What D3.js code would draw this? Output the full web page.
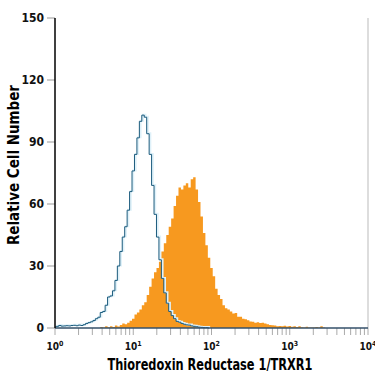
<!DOCTYPE html>
<html>
<head>
<meta charset="utf-8">
<script src="https://cdn.jsdelivr.net/npm/d3@7"></script>
<style>
  body { margin: 0; background: #fff; }
  text { font-family: "Liberation Sans Narrow", "DejaVu Sans Condensed", sans-serif; font-weight: bold; }
</style>
</head>
<body>
<div id="chart"></div>
<script>
// histogram channels: 128 log channels over 4 decades (10^0 .. 10^4)
var decades = 4;
var channelCount = 128;

// isotype control (outline)
var controlCounts = [
  0.5, 0.8, 1.2, 0.9, 1.0, 1.1, 1.0, 1.2, 1.3, 1.1,
  1.4, 1.2, 1.6, 2.2, 2.6, 3.0, 3.6, 4.5, 5.2, 7.5,
  8.0, 11, 15, 15.5, 18, 23, 30, 37, 44, 49,
  57, 66, 76, 84, 92, 100, 103, 102, 94, 84,
  69, 55, 44, 33, 24, 17, 12, 8, 6, 4.5,
  3.2, 2.8, 2.2, 1.8, 1.5, 1.4, 1.0, 0.8, 0.6, 0.4,
  0.3, 0.2, 0.2, 0
];

// TRXR1 stained (filled)
var stainedCounts = [
  0, 0, 0, 0, 0, 0, 0, 0, 0, 0,
  0, 0, 0, 0, 0, 0, 0, 0, 0, 0.5,
  0.3, 0.8, 0.4, 0.9, 0.5, 1.2, 0.7, 1.5, 2.2, 1.8,
  2.6, 3.5, 4.5, 6.5, 7.5, 9, 11, 12.5, 16, 20,
  24, 27, 29, 32, 37, 41, 45, 49, 53, 59,
  64, 68, 67, 69, 70, 68, 72, 73, 67, 61,
  54, 46, 40, 34, 29, 25, 19, 16, 14, 11,
  9.5, 9, 8, 7, 7.2, 5.5, 5.5, 4.5, 4.2, 3.8,
  3.2, 3.0, 2.6, 2.8, 2.4, 2.6, 2.2, 1.8, 1.5, 1.3,
  1.2, 0.8, 1.0, 0.9, 1.1, 0.7, 1.0, 0.6, 0.9, 0.5,
  0.8, 0.4, 0.3, 0.6, 0.2, 0.3, 0.2, 0.5, 0.3, 0.8,
  0.2, 0
];

var yTicks = [0, 30, 60, 90, 120, 150];
var xDecades = [0, 1, 2, 3, 4];
var xTitle = "Thioredoxin Reductase 1/TRXR1";
var yTitle = "Relative Cell Number";

var width = 375;
var height = 375;
var plotLeft = 55, plotRight = 368, plotTop = 18, plotBottom = 328;

var svg = d3.select("#chart").append("svg")
  .attr("width", width)
  .attr("height", height);

var x = d3.scaleLog().domain([1, 10000]).range([plotLeft, plotRight]);
var y = d3.scaleLinear().domain([0, 150]).range([plotBottom, plotTop]);

function toPoints(counts) {
  return counts.map(function(c, i) {
    return { v: Math.pow(10, i * decades / channelCount), c: c };
  });
}

var area = d3.area()
  .x(d => x(d.v))
  .y0(y(0))
  .y1(d => y(d.c))
  .curve(d3.curveStep);

var line = d3.line()
  .x(d => x(d.v))
  .y(d => y(d.c))
  .curve(d3.curveStep);

// right frame line
svg.append("line")
  .attr("x1", plotRight).attr("x2", plotRight)
  .attr("y1", plotTop).attr("y2", plotBottom)
  .attr("stroke", "#bbb")
  .attr("stroke-width", 1);

/* filled histogram */
svg.append("path")
  .datum(toPoints(stainedCounts))
  .attr("d", area)
  .attr("fill", "#f7991f");

/* outline histogram: light halo + dark line */
var ctrl = toPoints(controlCounts);
svg.append("path")
  .datum(ctrl)
  .attr("d", line)
  .attr("fill", "none")
  .attr("stroke", "#dff1f9")
  .attr("stroke-width", 2)
  .attr("transform", "translate(1.2,-0.5)");
svg.append("path")
  .datum(ctrl)
  .attr("d", line)
  .attr("fill", "none")
  .attr("stroke", "#1b5b7d")
  .attr("stroke-width", 1);

/* x axis */
var minor = [];
for (var d = 0; d < 4; d++) {
  for (var m = 2; m <= 9; m++) minor.push(m * Math.pow(10, d));
}
svg.append("g")
  .selectAll("line")
  .data(minor.concat(xDecades.map(d => Math.pow(10, d))))
  .enter().append("line")
  .attr("x1", d => x(d)).attr("x2", d => x(d))
  .attr("y1", plotBottom).attr("y2", plotBottom + 7)
  .attr("stroke", "#aaa")
  .attr("stroke-width", 1);

svg.append("line")
  .attr("x1", plotLeft).attr("x2", plotRight)
  .attr("y1", plotBottom).attr("y2", plotBottom)
  .attr("stroke", "#34506a")
  .attr("stroke-width", 1.5);

var xl = svg.append("g")
  .selectAll("text")
  .data(xDecades)
  .enter().append("text")
  .attr("x", d => x(Math.pow(10, d)))
  .attr("y", 350)
  .attr("text-anchor", "middle")
  .attr("font-size", 10)
  .attr("fill", "#111");
xl.append("tspan").text("10");
xl.append("tspan")
  .attr("dy", -4)
  .attr("font-size", 7)
  .text(d => d);

/* y axis */
svg.append("g")
  .selectAll("line")
  .data(yTicks)
  .enter().append("line")
  .attr("x1", plotLeft - 8).attr("x2", plotLeft)
  .attr("y1", d => y(d)).attr("y2", d => y(d))
  .attr("stroke", "#999")
  .attr("stroke-width", 1);

svg.append("line")
  .attr("x1", plotLeft).attr("x2", plotLeft)
  .attr("y1", plotTop).attr("y2", plotBottom)
  .attr("stroke", "#000")
  .attr("stroke-width", 1.5);

svg.append("g")
  .selectAll("text")
  .data(yTicks)
  .enter().append("text")
  .attr("x", plotLeft - 11)
  .attr("y", d => y(d) + 4)
  .attr("text-anchor", "end")
  .attr("font-size", 12)
  .attr("fill", "#111")
  .text(d => d);

/* titles */
svg.append("text")
  .attr("x", 210)
  .attr("y", 370)
  .attr("text-anchor", "middle")
  .attr("font-size", 15)
  .attr("textLength", 205)
  .attr("lengthAdjust", "spacingAndGlyphs")
  .attr("fill", "#000")
  .text(xTitle);

svg.append("text")
  .attr("transform", "translate(19,165) rotate(-90)")
  .attr("text-anchor", "middle")
  .attr("font-size", 15)
  .attr("textLength", 160)
  .attr("lengthAdjust", "spacingAndGlyphs")
  .attr("fill", "#000")
  .text(yTitle);
</script>
</body>
</html>
